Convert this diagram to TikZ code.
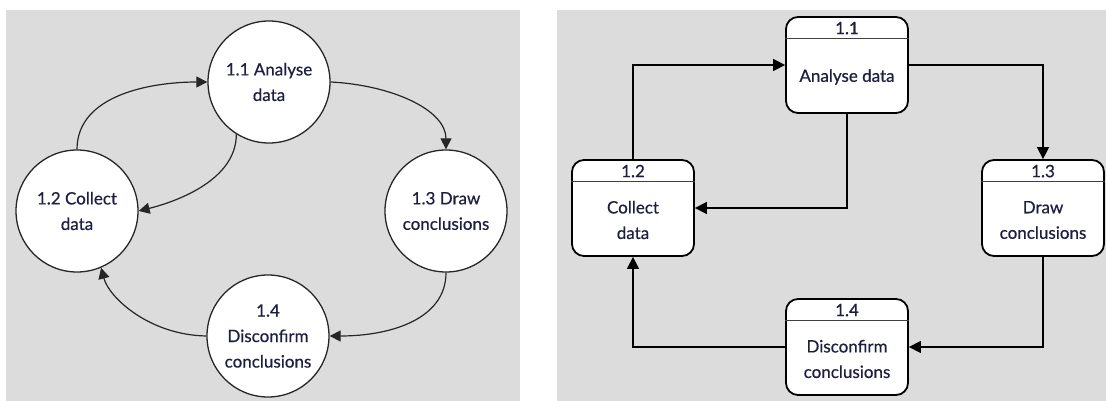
\documentclass[tikz,border=0pt]{standalone}
\usepackage{fontspec}
\setmainfont{Lato}[FakeBold=0.5]
\usetikzlibrary{arrows.meta,calc}
\definecolor{panelgray}{RGB}{220,220,220}
\definecolor{inkblue}{RGB}{30,30,66}
\begin{document}
\begin{tikzpicture}[x=1pt,y=-1pt,
  every node/.style={font=\fontsize{17}{25.5}\selectfont,text=inkblue},
  bubble/.style={circle,draw=black!85,line width=1.3pt,fill=white,
    minimum size=122pt,inner sep=0pt,align=center},
  procbox/.style={rectangle,rounded corners=12pt,draw=black,line width=1.8pt,
    fill=white,minimum width=122pt,minimum height=96pt,inner sep=0pt},
  headrule/.style={draw=black!75,line width=1.1pt},
  lbl/.style={align=center,inner sep=0pt},
  curvy/.style={draw=black!85,line width=1.2pt,-{Triangle[length=11pt,width=11pt]}},
  elbow/.style={draw=black,line width=1.5pt,-{Triangle[length=12pt,width=12pt]}}
]
\useasboundingbox (0,0) rectangle (1106,401);
\fill[panelgray] (6,10) rectangle (520,401);
\fill[panelgray] (557,10) rectangle (1106,401);

% ---- circle view ----
\node[bubble] (c11) at (269,82) {1.1 Analyse\\data};
\node[bubble] (c12) at (77,211) {1.2 Collect\\data};
\node[bubble] (c13) at (446,211) {1.3 Draw\\conclusions};
\node[bubble] (c14) at (268,336) {1.4\\Disconfirm\\conclusions};

\draw[curvy] (c12.north) .. controls +(0,-55) and +(-55,0) .. (c11.west);
\draw[curvy] (c11.238) .. controls +(0,45) and +(40,-10) .. (c12.east);
\draw[curvy] (c11.east) .. controls +(60,3) and +(0,-40) .. (c13.north);
\draw[curvy] (c13.south) .. controls +(0,47) and +(60,0) .. (c14.east);
\draw[curvy] (c14.west) .. controls +(-57,-1) and +(8,30) .. (c12.293);

% ---- box view ----
\foreach \n/\x/\y in {b11/847/65, b12/633/208, b13/1043/208, b14/847/347}{
  \node[procbox] (\n) at (\x,\y) {};
  \draw[headrule] ($(\n.north west)+(0,22.5)$) -- ($(\n.north east)+(0,22.5)$);
}
\node[lbl] (h11) at ($(b11.north)+(0,12)$) {1.1};
\node[lbl] (h12) at ($(b12.north)+(0,12)$) {1.2};
\node[lbl] (h13) at ($(b13.north)+(0,12)$) {1.3};
\node[lbl] (h14) at ($(b14.north)+(0,12)$) {1.4};
\node[lbl] (t11) at ($(b11.center)+(0,12)$) {Analyse data};
\node[lbl] (t12) at ($(b12.center)+(0,12)$) {Collect\\data};
\node[lbl] (t13) at ($(b13.center)+(0,12)$) {Draw\\conclusions};
\node[lbl] (t14) at ($(b14.center)+(0,12)$) {Disconfirm\\conclusions};

\draw[elbow] (b12.north) |- (b11.west);
\draw[elbow] (b11.south) |- (b12.east);
\draw[elbow] (b11.east) -| (b13.north);
\draw[elbow] (b13.south) |- (b14.east);
\draw[elbow] (b14.west) -| (b12.south);
\end{tikzpicture}
\end{document}
